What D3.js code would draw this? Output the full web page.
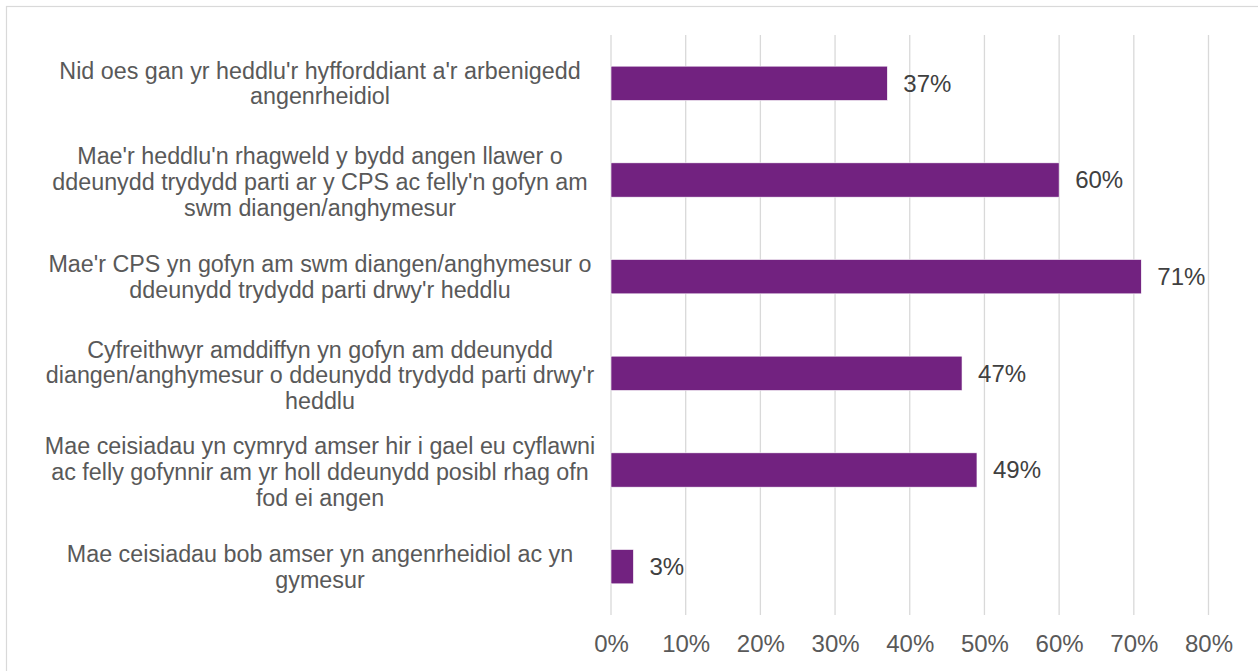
<!DOCTYPE html>
<html>
<head>
<meta charset="utf-8">
<script src="https://cdn.jsdelivr.net/npm/d3@7"></script>
<style>
  html, body { margin: 0; padding: 0; background: #fff; }
  svg { display: block; font-family: "Liberation Sans", Arial, sans-serif; }
</style>
</head>
<body>
<div id="chart"></div>
<script>
// category labels, wrapped the same way as the original
var categories = [
  ["Nid oes gan yr heddlu'r hyfforddiant a'r arbenigedd", "angenrheidiol"],
  ["Mae'r heddlu'n rhagweld y bydd angen llawer o", "ddeunydd trydydd parti ar y CPS ac felly'n gofyn am", "swm diangen/anghymesur"],
  ["Mae'r CPS yn gofyn am swm diangen/anghymesur o", "ddeunydd trydydd parti drwy'r heddlu"],
  ["Cyfreithwyr amddiffyn yn gofyn am ddeunydd", "diangen/anghymesur o ddeunydd trydydd parti drwy'r", "heddlu"],
  ["Mae ceisiadau yn cymryd amser hir i gael eu cyflawni", "ac felly gofynnir am yr holl ddeunydd posibl rhag ofn", "fod ei angen"],
  ["Mae ceisiadau bob amser yn angenrheidiol ac yn", "gymesur"]
];
var values = [37, 60, 71, 47, 49, 3];
var ticks = [0, 10, 20, 30, 40, 50, 60, 70, 80];

var width = 1258,
  height = 671,
  fontSize = 24;

var svg = d3.select("#chart")
  .append("svg")
  .attr("width", width)
  .attr("height", height);

// outer chart frame (right/bottom edges fall outside the picture)
svg.append("rect")
  .attr("x", 6.5)
  .attr("y", 6.5)
  .attr("width", 1270)
  .attr("height", 700)
  .attr("fill", "none")
  .attr("stroke", "#d9d9d9")
  .attr("stroke-width", 1.2);

var x = d3.scaleLinear()
  .domain([0, 80])
  .range([611, 1208.5]);

var y = d3.scaleBand()
  .domain(d3.range(categories.length))
  .range([35, 615])
  .paddingInner(0.645)
  .paddingOuter(0.3225);

// gridlines
svg.append("g")
  .attr("class", "grid")
  .selectAll("line")
  .data(ticks)
  .enter()
  .append("line")
  .attr("x1", (d) => x(d))
  .attr("x2", (d) => x(d))
  .attr("y1", 35)
  .attr("y2", 615)
  .attr("stroke", "#d9d9d9")
  .attr("stroke-width", 1.3);

// x axis tick labels
var xAxis = d3.axisBottom(x)
  .tickValues(ticks)
  .tickSize(0)
  .tickPadding(0)
  .tickFormat((d) => d + "%");

svg.append("g")
  .attr("transform", "translate(0,652)")
  .call(xAxis)
  .call((g) => g.select(".domain").remove())
  .selectAll("text")
  .attr("dy", 0)
  .attr("font-size", fontSize)
  .attr("font-family", "Liberation Sans, Arial, sans-serif")
  .attr("fill", "#595959");

// bars
svg.append("g")
  .selectAll("rect")
  .data(values)
  .enter()
  .append("rect")
  .attr("x", x(0))
  .attr("y", (d, i) => y(i))
  .attr("width", (d) => x(d) - x(0))
  .attr("height", y.bandwidth())
  .attr("fill", "#722280")
  .attr("stroke", "#fff")
  .attr("stroke-width", 0.6);

// data labels
svg.append("g")
  .selectAll("text")
  .data(values)
  .enter()
  .append("text")
  .attr("x", (d) => x(d) + 16)
  .attr("y", (d, i) => y(i) + y.bandwidth() / 2)
  .attr("dy", "0.35em")
  .attr("font-size", fontSize)
  .attr("fill", "#404040")
  .text((d) => d + "%");

// category labels, centred block left of the plot
var lineH = 25.8;
var labels = svg.append("g")
  .selectAll("text")
  .data(categories)
  .enter()
  .append("text")
  .attr("text-anchor", "middle")
  .attr("font-size", 23.3)
  .attr("fill", "#595959")
  .attr("transform", (d, i) => {
    var cy = y(i) + y.bandwidth() / 2 + (d.length - 2) * 2;
    return "translate(320," + (cy - (d.length - 1) * lineH / 2) + ")";
  });

labels.selectAll("tspan")
  .data((d) => d)
  .enter()
  .append("tspan")
  .attr("x", 0)
  .attr("y", (d, i) => i * lineH)
  .attr("dy", "0.35em")
  .text((d) => d);
</script>
</body>
</html>
